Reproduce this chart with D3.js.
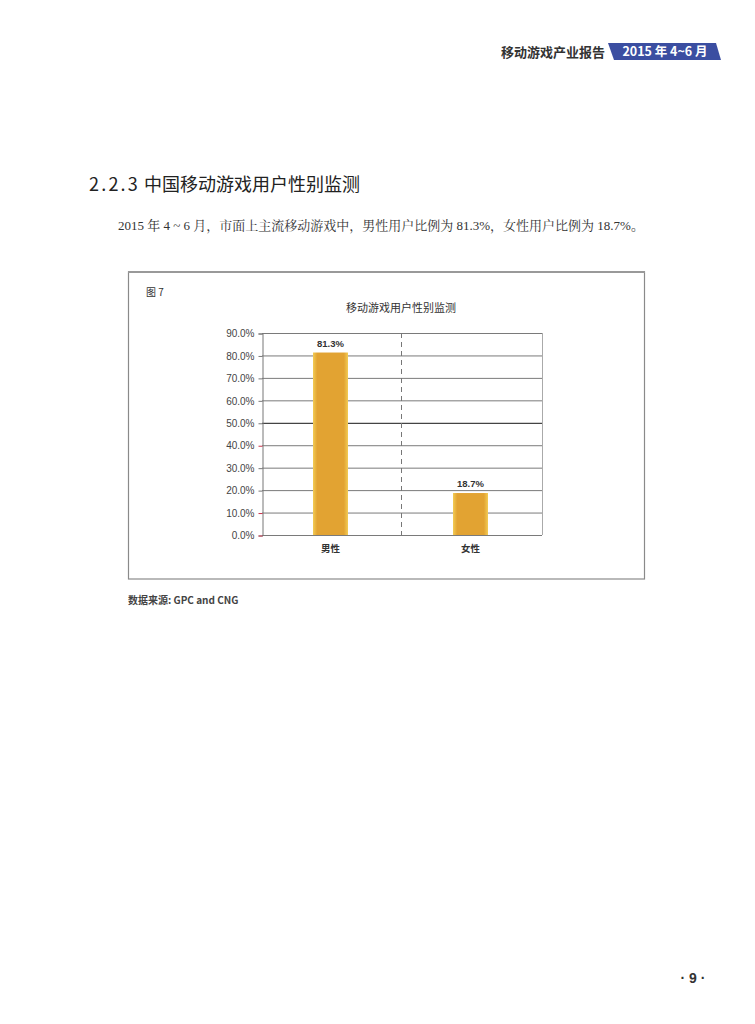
<!DOCTYPE html>
<html><head><meta charset="utf-8">
<script src="https://cdn.jsdelivr.net/npm/d3@7"></script>
<style>
html,body{margin:0;padding:0;background:#fff;}
svg{display:block;}
</style></head>
<body>
<svg id="page" width="755" height="1024"></svg>
<script>
const categories = ["男性", "女性"];
const values = [81.3, 18.7];
const valueLabels = ["81.3%", "18.7%"];
const yTicks = [0, 10, 20, 30, 40, 50, 60, 70, 80, 90];
const redTicks = [0, 10, 40];

const svg = d3.select("#page");
const sans = "'Liberation Sans', Arial, 'Noto Sans CJK SC', sans-serif";
const cjk = "'Noto Sans CJK SC', sans-serif";

// Header
svg.append("text").attr("x", 605).attr("y", 57).attr("text-anchor", "end")
  .attr("font-family", cjk).attr("font-size", 13).attr("font-weight", "bold").attr("fill", "#333")
  .text("移动游戏产业报告");
svg.append("path").attr("d", "M608,43 L716,43 L721,60 L614,60 Z").attr("fill", "#3b4ea1");
svg.append("text").attr("x", 665).attr("y", 56).attr("text-anchor", "middle")
  .attr("font-family", cjk).attr("font-size", 12.5).attr("font-weight", "bold").attr("fill", "#fff")
  .text("2015 年 4~6 月");

// Section heading
const h = svg.append("text").attr("x", 89).attr("y", 191)
  .attr("font-family", cjk).attr("font-size", 18).attr("fill", "#222");
h.append("tspan").attr("letter-spacing", 2.2).text("2.2.3");
h.append("tspan").text(" 中国移动游戏用户性别监测");

// Body text
svg.append("text").attr("x", 118).attr("y", 230)
  .attr("font-family", "'Liberation Serif', 'Noto Serif CJK SC', 'Noto Sans CJK SC', serif").attr("font-size", 13).attr("fill", "#333")
  .text("2015 年 4 ~ 6 月，市面上主流移动游戏中，男性用户比例为 81.3%，女性用户比例为 18.7%。");

// Chart box
svg.append("rect").attr("x", 128.5).attr("y", 272).attr("width", 516).attr("height", 307)
  .attr("fill", "#fff").attr("stroke", "#8a8a8a").attr("stroke-width", 1.2);
svg.append("line").attr("x1", 128).attr("x2", 645).attr("y1", 272).attr("y2", 272)
  .attr("stroke", "#999").attr("stroke-width", 2);

svg.append("text").attr("x", 146).attr("y", 296)
  .attr("font-family", cjk).attr("font-size", 10).attr("fill", "#333").text("图 7");
svg.append("text").attr("x", 401).attr("y", 312).attr("text-anchor", "middle")
  .attr("font-family", cjk).attr("font-size", 11).attr("fill", "#333").text("移动游戏用户性别监测");

// Plot
const plot = {left: 262, right: 542, top: 333, bottom: 535};
const x = d3.scaleBand().domain(categories).range([plot.left, plot.right]).paddingInner(0).paddingOuter(0);
const y = d3.scaleLinear().domain([0, 90]).range([plot.bottom, plot.top]);

const g = svg.append("g");
// gridlines
g.selectAll("line.grid").data(yTicks).join("line")
  .attr("x1", plot.left).attr("x2", plot.right)
  .attr("y1", d => y(d) + 0.5).attr("y2", d => y(d) + 0.5)
  .attr("stroke", d => d === 50 ? "#444" : "#7a7a7a").attr("stroke-width", d => d === 50 ? 1.2 : 1);
// right border
g.append("line").attr("x1", plot.right + 0.5).attr("x2", plot.right + 0.5)
  .attr("y1", plot.top).attr("y2", plot.bottom).attr("stroke", "#aaa");
// dashed divider
g.append("line").attr("x1", x(categories[1]) - 0.5).attr("x2", x(categories[1]) - 0.5)
  .attr("y1", plot.top).attr("y2", plot.bottom)
  .attr("stroke", "#777").attr("stroke-dasharray", "5,4");

// Y axis
const yAxis = d3.axisLeft(y).tickValues(yTicks).tickSize(4).tickFormat(d => d.toFixed(1) + "%");
const ya = g.append("g").attr("transform", `translate(${plot.left + 0.5},0.5)`).call(yAxis);
ya.select(".domain").attr("stroke", "#777");
ya.selectAll(".tick line").attr("stroke", d => redTicks.includes(d) ? "#c8324a" : "#777");
ya.selectAll(".tick text").attr("font-family", sans).attr("font-size", 10).attr("fill", "#444").attr("x", -8);

// Bars with gradient
const defs = svg.append("defs");
const grad = defs.append("linearGradient").attr("id", "barGrad").attr("x1", "0").attr("x2", "1").attr("y1", "0").attr("y2", "0");
grad.append("stop").attr("offset", "0").attr("stop-color", "#f3cc55");
grad.append("stop").attr("offset", "0.12").attr("stop-color", "#e2a332");
grad.append("stop").attr("offset", "0.88").attr("stop-color", "#e2a332");
grad.append("stop").attr("offset", "1").attr("stop-color", "#f3cc55");

const barW = 35;
g.selectAll("rect.bar").data(values).join("rect")
  .attr("x", (d, i) => x(categories[i]) + x.bandwidth() / 2 - barW / 2 - 1.5)
  .attr("width", barW)
  .attr("y", d => y(d))
  .attr("height", d => y(0) - y(d))
  .attr("fill", "url(#barGrad)");

g.selectAll("text.val").data(values).join("text")
  .attr("x", (d, i) => x(categories[i]) + x.bandwidth() / 2 - 1.5)
  .attr("y", d => y(d) - 6)
  .attr("text-anchor", "middle")
  .attr("font-family", sans).attr("font-size", 9.5).attr("font-weight", "bold").attr("fill", "#333")
  .text((d, i) => valueLabels[i]);

// X labels
g.selectAll("text.cat").data(categories).join("text")
  .attr("x", d => x(d) + x.bandwidth() / 2 - 1.5)
  .attr("y", plot.bottom + 17)
  .attr("text-anchor", "middle")
  .attr("font-family", cjk).attr("font-size", 9.5).attr("font-weight", "bold").attr("fill", "#333")
  .text(d => d);

// Source
svg.append("text").attr("x", 128).attr("y", 604)
  .attr("font-family", cjk).attr("font-size", 10).attr("font-weight", "bold").attr("fill", "#444")
  .text("数据来源: GPC and CNG");

// Page number
svg.append("text").attr("x", 693).attr("y", 983).attr("text-anchor", "middle")
  .attr("font-family", sans).attr("font-size", 14).attr("font-weight", "bold").attr("fill", "#333").text("· 9 ·");
</script>
</body></html>
